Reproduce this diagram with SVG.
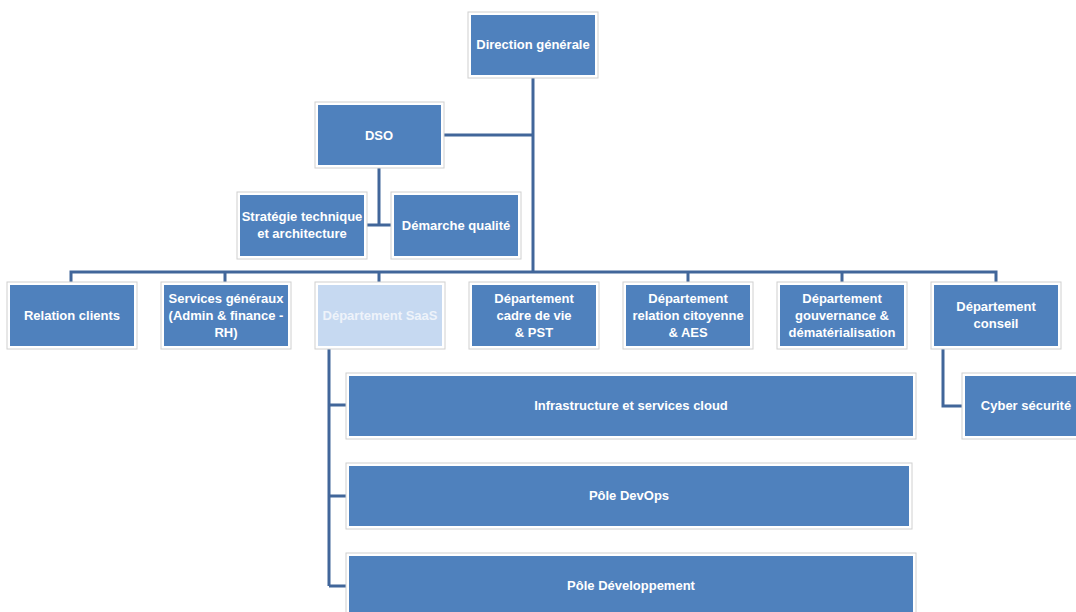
<svg xmlns="http://www.w3.org/2000/svg" width="1076" height="612" viewBox="0 0 1076 612">
<style>
.frame{fill:#ffffff;stroke:#d0d0d0;stroke-width:1}
.box{fill:#4f81bd}
.light{fill:#c6d9f1}
.t{font-family:"Liberation Sans",Arial,sans-serif;font-weight:bold;font-size:13px;fill:#ffffff;text-anchor:middle}
.tl{fill:#eef3fa}
.c{stroke:#41669a;stroke-width:3;fill:none}
</style>
<rect width="1076" height="612" fill="#ffffff"/>
<g id="connectors">
<path class="c" d="M533 78V272"/>
<path class="c" d="M444 135H533"/>
<path class="c" d="M379 168V225M367 225H391"/>
<path class="c" d="M71 282V272H996V282"/>
<path class="c" d="M225 272V282M379 272V282M688 272V282M842 272V282"/>
<path class="c" d="M329 349V586M329 405H346M329 496H346M329 586H346"/>
<path class="c" d="M943 349V406H962"/>
</g>
<g id="dg"><rect class="frame" x="468" y="12" width="130" height="66"/><rect class="box" x="471" y="15" width="124" height="60"/><text class="t" x="533" y="49">Direction générale</text></g>
<g id="dso"><rect class="frame" x="315" y="102" width="129" height="66"/><rect class="box" x="318" y="105" width="123" height="60"/><text class="t" x="379" y="140">DSO</text></g>
<g id="strategie"><rect class="frame" x="237" y="192" width="130" height="67"/><rect class="box" x="240" y="195" width="124" height="61"/><text class="t" x="302" y="221">Stratégie technique</text><text class="t" x="302" y="238">et architecture</text></g>
<g id="qualite"><rect class="frame" x="391" y="192" width="130" height="67"/><rect class="box" x="394" y="195" width="124" height="61"/><text class="t" x="456" y="230">Démarche qualité</text></g>
<g id="relation-clients"><rect class="frame" x="7" y="282" width="130" height="67"/><rect class="box" x="10" y="285" width="124" height="61"/><text class="t" x="72" y="320">Relation clients</text></g>
<g id="services-generaux"><rect class="frame" x="161" y="282" width="130" height="67"/><rect class="box" x="164" y="285" width="124" height="61"/><text class="t" x="226" y="303">Services généraux</text><text class="t" x="226" y="320">(Admin &amp; finance -</text><text class="t" x="226" y="337">RH)</text></g>
<g id="saas"><rect class="frame" x="315" y="282" width="130" height="67"/><rect class="light" x="318" y="285" width="124" height="61"/><text class="t tl" x="380" y="320">Département SaaS</text></g>
<g id="cadre-de-vie"><rect class="frame" x="469" y="282" width="130" height="67"/><rect class="box" x="472" y="285" width="124" height="61"/><text class="t" x="534" y="303">Département</text><text class="t" x="534" y="320">cadre de vie</text><text class="t" x="534" y="337">&amp; PST</text></g>
<g id="relation-citoyenne"><rect class="frame" x="623" y="282" width="130" height="67"/><rect class="box" x="626" y="285" width="124" height="61"/><text class="t" x="688" y="303">Département</text><text class="t" x="688" y="320">relation citoyenne</text><text class="t" x="688" y="337">&amp; AES</text></g>
<g id="gouvernance"><rect class="frame" x="777" y="282" width="130" height="67"/><rect class="box" x="780" y="285" width="124" height="61"/><text class="t" x="842" y="303">Département</text><text class="t" x="842" y="320">gouvernance &amp;</text><text class="t" x="842" y="337">dématérialisation</text></g>
<g id="conseil"><rect class="frame" x="931" y="282" width="130" height="67"/><rect class="box" x="934" y="285" width="124" height="61"/><text class="t" x="996" y="311">Département</text><text class="t" x="996" y="328">conseil</text></g>
<g id="infrastructure"><rect class="frame" x="346" y="373" width="570" height="66"/><rect class="box" x="349" y="376" width="564" height="60"/><text class="t" x="631" y="410">Infrastructure et services cloud</text></g>
<g id="devops"><rect class="frame" x="346" y="463" width="566" height="66"/><rect class="box" x="349" y="466" width="560" height="60"/><text class="t" x="629" y="500">Pôle DevOps</text></g>
<g id="developpement"><rect class="frame" x="346" y="553" width="570" height="66"/><rect class="box" x="349" y="556" width="564" height="60"/><text class="t" x="631" y="590">Pôle Développement</text></g>
<g id="cyber"><rect class="frame" x="962" y="373" width="130" height="66"/><rect class="box" x="965" y="376" width="124" height="60"/><text class="t" x="1026" y="410">Cyber sécurité</text></g>
</svg>
